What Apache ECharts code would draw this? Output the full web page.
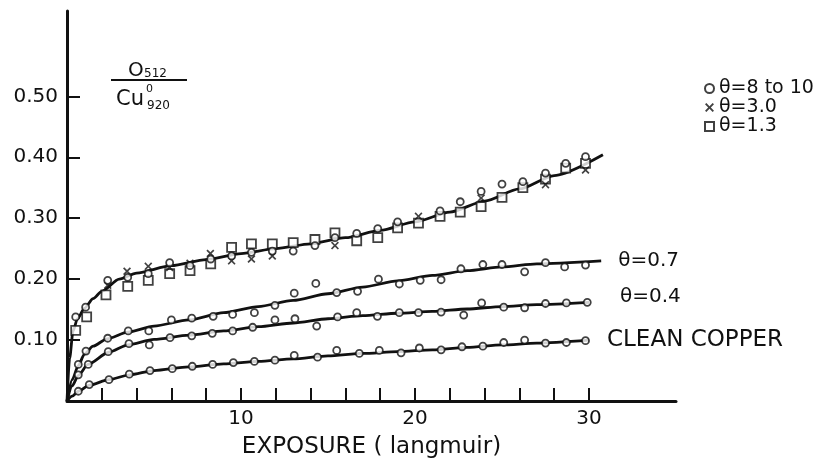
<!DOCTYPE html>
<html>
<head>
<meta charset="utf-8">
<script src="https://cdn.jsdelivr.net/npm/echarts@6/dist/echarts.min.js"></script>
<style>
  html, body { margin: 0; padding: 0; background: #fff; }
  #chart { width: 829px; height: 464px; }
</style>
</head>
<body>
<div id="chart"></div>
<script>
// tick / label values
const xTicks = [2, 4, 6, 8, 10, 12, 14, 16, 18, 20, 22, 24, 26, 28, 30];
const xLabels = [10, 20, 30];
const yTicks = [0.1, 0.2, 0.3, 0.4, 0.5];

// measured points, top curve (three coverages)
const theta8to10 = [[0.5,0.138],[1.07,0.154],[2.34,0.198],[3.49,0.203],[4.67,0.209],[5.9,0.227],[7.07,0.222],[8.26,0.233],[9.46,0.238],[10.6,0.244],[11.8,0.246],[13.0,0.246],[14.25,0.255],[15.4,0.268],[16.65,0.275],[17.86,0.283],[19.0,0.294],[21.44,0.312],[22.6,0.327],[23.8,0.344],[25.0,0.356],[26.2,0.360],[27.5,0.374],[28.66,0.390],[29.8,0.401]];
const theta3 = [[2.34,0.190],[3.45,0.213],[4.67,0.221],[5.9,0.219],[7.07,0.226],[8.24,0.242],[9.46,0.230],[10.6,0.233],[11.8,0.238],[15.4,0.255],[20.2,0.303],[23.8,0.333],[27.5,0.355],[29.8,0.379]];
const theta13 = [[0.5,0.116],[1.13,0.138],[2.24,0.174],[3.49,0.188],[4.67,0.198],[5.9,0.209],[7.07,0.214],[8.26,0.225],[9.46,0.252],[10.6,0.258],[11.8,0.258],[13.0,0.260],[14.25,0.265],[15.4,0.276],[16.65,0.263],[17.86,0.268],[19.0,0.284],[20.2,0.292],[21.44,0.303],[22.6,0.310],[23.8,0.319],[25.0,0.334],[26.2,0.350],[27.5,0.364],[28.66,0.382],[29.8,0.390]];

// measured points, lower curves
const theta07 = [[0.65,0.060],[1.09,0.082],[2.34,0.103],[3.52,0.115],[4.7,0.115],[6.0,0.133],[7.17,0.136],[8.4,0.139],[9.52,0.142],[10.77,0.145],[11.95,0.157],[13.06,0.177],[14.3,0.193],[15.5,0.178],[16.7,0.180],[17.9,0.200],[19.1,0.192],[20.3,0.198],[21.5,0.199],[22.64,0.217],[23.9,0.224],[25.0,0.224],[26.3,0.212],[27.5,0.227],[28.6,0.220],[29.8,0.223]];
const theta04 = [[0.65,0.043],[1.22,0.060],[2.37,0.081],[3.56,0.094],[4.73,0.092],[5.92,0.104],[7.17,0.107],[8.35,0.111],[9.52,0.115],[10.67,0.121],[11.95,0.133],[13.1,0.135],[14.35,0.123],[15.55,0.138],[16.65,0.145],[17.84,0.139],[19.1,0.145],[20.2,0.145],[21.5,0.146],[22.8,0.141],[23.83,0.161],[25.1,0.154],[26.3,0.153],[27.5,0.160],[28.7,0.161],[29.9,0.162]];
const cleanCu = [[0.65,0.016],[1.28,0.027],[2.41,0.035],[3.58,0.044],[4.77,0.050],[6.05,0.053],[7.2,0.057],[8.37,0.060],[9.56,0.063],[10.77,0.065],[11.95,0.067],[13.06,0.075],[14.4,0.072],[15.5,0.083],[16.8,0.078],[17.95,0.083],[19.2,0.079],[20.25,0.087],[21.5,0.084],[22.7,0.089],[23.9,0.090],[25.1,0.096],[26.3,0.100],[27.5,0.095],[28.7,0.096],[29.8,0.099]];

// hand-drawn fitted curves
const fitTop = [[0,0],[0.15,0.07],[0.35,0.115],[0.6,0.135],[1,0.152],[1.5,0.168],[2,0.18],[3,0.2],[4,0.21],[6,0.222],[8,0.232],[10,0.242],[12,0.25],[14,0.258],[16,0.268],[18,0.28],[20,0.294],[22,0.31],[24,0.328],[26,0.348],[28,0.37],[30.8,0.404]];
const fit07 = [[0,0],[0.3,0.035],[0.65,0.058],[1,0.077],[1.5,0.09],[2.3,0.102],[3.5,0.113],[5,0.123],[7,0.133],[9,0.145],[11,0.155],[13,0.165],[15,0.176],[17,0.187],[19,0.197],[21,0.206],[23,0.214],[25,0.22],[27,0.225],[30.7,0.23]];
const fit04 = [[0,0],[0.3,0.025],[0.65,0.042],[1.2,0.06],[2.4,0.08],[3.5,0.092],[5,0.101],[7,0.108],[9,0.115],[11,0.122],[13,0.128],[15,0.135],[17,0.14],[19,0.144],[21,0.147],[23,0.151],[25,0.155],[27,0.158],[30,0.162]];
const fitClean = [[0,0],[0.3,0.008],[0.65,0.016],[1.3,0.026],[2.4,0.035],[3.6,0.043],[5,0.05],[7,0.056],[9,0.061],[11,0.065],[13,0.069],[15,0.074],[17,0.078],[19,0.081],[21,0.084],[23,0.088],[25,0.092],[27,0.095],[30,0.1]];

const ink = '#111';
const font = 'DejaVu Sans';
const cross = 'path://M0,1.5L1.5,0L5,3.5L8.5,0L10,1.5L6.5,5L10,8.5L8.5,10L5,6.5L1.5,10L0,8.5L3.5,5Z';

function fitLine(data, label, dist, off, size) {
    return {
        type: 'line',
        data: data,
        smooth: 0.25,
        smoothMonotone: 'x',
        showSymbol: false,
        silent: true,
        z: 2,
        lineStyle: {color: ink, width: 2.8},
        endLabel: label ? {
            show: true,
            formatter: label,
            distance: dist,
            offset: off || [0, 0],
            color: ink,
            fontFamily: font,
            fontSize: size || 20
        } : {show: false}
    };
}

function points(name, data, symbol, size, hollow) {
    return {
        name: name,
        type: 'scatter',
        data: data,
        symbol: symbol,
        symbolSize: size,
        z: 5,
        itemStyle: hollow
            ? {color: '#fff', borderColor: ink, borderWidth: 1.8}
            : {color: ink}
    };
}

const chart = echarts.init(document.getElementById('chart'));
chart.setOption({
    animation: false,
    backgroundColor: '#fff',
    textStyle: {fontFamily: font},
    grid: {left: 67, right: 153, top: 11, bottom: 59},
    legend: {
        data: ['θ=8 to 10', 'θ=3.0', 'θ=1.3'],
        orient: 'vertical',
        left: 699,
        top: 74,
        itemWidth: 9,
        itemHeight: 9,
        itemGap: 0,
        selectedMode: false,
        textStyle: {color: ink, fontFamily: font, fontSize: 19, lineHeight: 18}
    },
    xAxis: {
        type: 'value',
        min: 0,
        max: 35,
        name: 'EXPOSURE ( langmuir)',
        nameLocation: 'middle',
        nameGap: 35,
        nameTextStyle: {color: ink, fontFamily: font, fontSize: 23},
        axisLine: {lineStyle: {color: ink, width: 3}},
        axisTick: {inside: true, length: 13, customValues: xTicks, lineStyle: {color: ink, width: 2}},
        axisLabel: {customValues: xLabels, color: ink, fontSize: 20, margin: 8},
        splitLine: {show: false}
    },
    yAxis: {
        type: 'value',
        min: 0,
        max: 0.64,
        axisLine: {show: true, lineStyle: {color: ink, width: 3}},
        axisTick: {show: true, inside: true, length: 13, customValues: yTicks, lineStyle: {color: ink, width: 2}},
        axisLabel: {
            customValues: yTicks,
            color: ink,
            fontSize: 20,
            margin: 9,
            formatter: function (v) { return v.toFixed(2); }
        },
        splitLine: {show: false}
    },
    graphic: [
        {type: 'text', left: 128, top: 61, style: {text: 'O', font: '20px DejaVu Sans', fill: ink}},
        {type: 'text', left: 144, top: 68, style: {text: '512', font: '12px DejaVu Sans', fill: ink}},
        {type: 'line', shape: {x1: 111, y1: 80, x2: 187, y2: 80}, style: {stroke: ink, lineWidth: 2}},
        {type: 'text', left: 116, top: 89, style: {text: 'Cu', font: '21px DejaVu Sans', fill: ink}},
        {type: 'text', left: 146, top: 84, style: {text: '0', font: '11px DejaVu Sans', fill: ink}},
        {type: 'text', left: 147, top: 100, style: {text: '920', font: '12px DejaVu Sans', fill: ink}}
    ],
    series: [
        fitLine(fitTop, null),
        fitLine(fit07, 'θ=0.7', 17),
        fitLine(fit04, 'θ=0.4', 31, [0, -5]),
        fitLine(fitClean, 'CLEAN COPPER', 18, null, 23),
        points('θ=0.7 data', theta07, 'circle', 7, true),
        points('θ=0.4 data', theta04, 'circle', 7, true),
        points('clean data', cleanCu, 'circle', 7, true),
        points('θ=1.3', theta13, 'rect', 9, true),
        points('θ=3.0', theta3, cross, 8, false),
        points('θ=8 to 10', theta8to10, 'circle', 7, true)
    ]
});
</script>
</body>
</html>
